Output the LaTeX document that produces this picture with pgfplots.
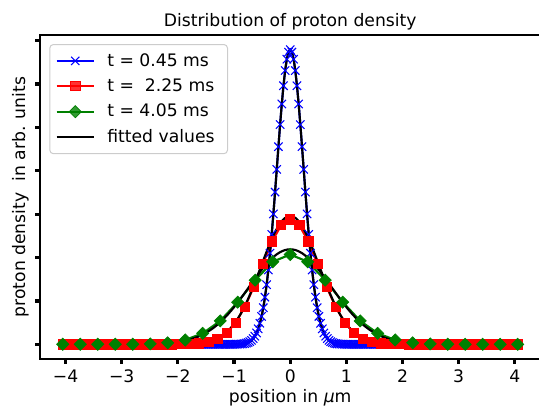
\documentclass[border=0pt]{standalone}
\usepackage{pgfplots}
\pgfplotsset{compat=1.18}
\usepackage{pgfplotstable}
\usepackage{fontspec}
\setmainfont{DejaVu Sans}
\definecolor{mplgreen}{RGB}{0,128,0}
\definecolor{legendgray}{RGB}{204,204,204}

% t = 0.45 ms (data, also used for the fitted curve)
\pgfplotstableread[row sep=\\]{x y\\
-4.05 0\\ -4.02 0\\ -3.99 0\\ -3.96 0\\ -3.93 0\\ -3.90 0\\ -3.87 0\\ -3.84 0\\ -3.81 0\\ -3.78 0\\
-3.75 0\\ -3.72 0\\ -3.69 0\\ -3.66 0\\ -3.63 0\\ -3.60 0\\ -3.57 0\\ -3.54 0\\ -3.51 0\\ -3.48 0\\
-3.45 0\\ -3.42 0\\ -3.39 0\\ -3.36 0\\ -3.33 0\\ -3.30 0\\ -3.27 0\\ -3.24 0\\ -3.21 0\\ -3.18 0\\
-3.15 0\\ -3.12 0\\ -3.09 0\\ -3.06 0\\ -3.03 0\\ -3.00 0\\ -2.97 0\\ -2.94 0\\ -2.91 0\\ -2.88 0\\
-2.85 0\\ -2.82 0\\ -2.79 0\\ -2.76 0\\ -2.73 0\\ -2.70 0\\ -2.67 0\\ -2.64 0\\ -2.61 0\\ -2.58 0\\
-2.55 0\\ -2.52 0\\ -2.49 0\\ -2.46 0\\ -2.43 0\\ -2.40 0\\ -2.37 0\\ -2.34 0\\ -2.31 0\\ -2.28 0\\
-2.25 0\\ -2.22 0\\ -2.19 0\\ -2.16 0\\ -2.13 0\\ -2.10 0\\ -2.07 0\\ -2.04 0\\ -2.01 0\\ -1.98 0\\
-1.95 0\\ -1.92 0\\ -1.89 0\\ -1.86 0\\ -1.83 0\\ -1.80 0\\ -1.77 0\\ -1.74 0\\ -1.71 0\\ -1.68 0\\
-1.65 0\\ -1.62 0\\ -1.59 0\\ -1.56 0\\ -1.53 0\\ -1.50 0\\ -1.47 0\\ -1.44 0\\ -1.41 0\\ -1.38 0\\
-1.35 0\\ -1.32 0\\ -1.29 0\\ -1.26 0\\ -1.23 0\\ -1.20 0\\ -1.17 0\\ -1.14 0\\ -1.11 0\\ -1.08 0\\
-1.05 0\\ -1.02 0\\
-0.99 0.001\\ -0.96 0.002\\ -0.93 0.003\\ -0.90 0.004\\ -0.87 0.007\\ -0.84 0.011\\ -0.81 0.018\\
-0.78 0.028\\ -0.75 0.042\\ -0.72 0.062\\ -0.69 0.091\\ -0.66 0.132\\ -0.63 0.187\\ -0.60 0.261\\
-0.57 0.358\\ -0.54 0.485\\ -0.51 0.644\\ -0.48 0.843\\ -0.45 1.086\\ -0.42 1.375\\ -0.39 1.713\\
-0.36 2.100\\ -0.33 2.533\\ -0.30 3.006\\ -0.27 3.509\\ -0.24 4.031\\ -0.21 4.555\\ -0.18 5.064\\
-0.15 5.539\\ -0.12 5.960\\ -0.09 6.310\\ -0.06 6.572\\ -0.03 6.735\\ 0.00 6.790\\
0.03 6.735\\ 0.06 6.572\\ 0.09 6.310\\ 0.12 5.960\\ 0.15 5.539\\ 0.18 5.064\\ 0.21 4.555\\
0.24 4.031\\ 0.27 3.509\\ 0.30 3.006\\ 0.33 2.533\\ 0.36 2.100\\ 0.39 1.713\\ 0.42 1.375\\
0.45 1.086\\ 0.48 0.843\\ 0.51 0.644\\ 0.54 0.485\\ 0.57 0.358\\ 0.60 0.261\\ 0.63 0.187\\
0.66 0.132\\ 0.69 0.091\\ 0.72 0.062\\ 0.75 0.042\\ 0.78 0.028\\ 0.81 0.018\\ 0.84 0.011\\
0.87 0.007\\ 0.90 0.004\\ 0.93 0.003\\ 0.96 0.002\\ 0.99 0.001\\
1.02 0\\ 1.05 0\\ 1.08 0\\ 1.11 0\\ 1.14 0\\ 1.17 0\\ 1.20 0\\ 1.23 0\\ 1.26 0\\ 1.29 0\\
1.32 0\\ 1.35 0\\ 1.38 0\\ 1.41 0\\ 1.44 0\\ 1.47 0\\ 1.50 0\\ 1.53 0\\ 1.56 0\\ 1.59 0\\
1.62 0\\ 1.65 0\\ 1.68 0\\ 1.71 0\\ 1.74 0\\ 1.77 0\\ 1.80 0\\ 1.83 0\\ 1.86 0\\ 1.89 0\\
1.92 0\\ 1.95 0\\ 1.98 0\\ 2.01 0\\ 2.04 0\\ 2.07 0\\ 2.10 0\\ 2.13 0\\ 2.16 0\\ 2.19 0\\
2.22 0\\ 2.25 0\\ 2.28 0\\ 2.31 0\\ 2.34 0\\ 2.37 0\\ 2.40 0\\ 2.43 0\\ 2.46 0\\ 2.49 0\\
2.52 0\\ 2.55 0\\ 2.58 0\\ 2.61 0\\ 2.64 0\\ 2.67 0\\ 2.70 0\\ 2.73 0\\ 2.76 0\\ 2.79 0\\
2.82 0\\ 2.85 0\\ 2.88 0\\ 2.91 0\\ 2.94 0\\ 2.97 0\\ 3.00 0\\ 3.03 0\\ 3.06 0\\ 3.09 0\\
3.12 0\\ 3.15 0\\ 3.18 0\\ 3.21 0\\ 3.24 0\\ 3.27 0\\ 3.30 0\\ 3.33 0\\ 3.36 0\\ 3.39 0\\
3.42 0\\ 3.45 0\\ 3.48 0\\ 3.51 0\\ 3.54 0\\ 3.57 0\\ 3.60 0\\ 3.63 0\\ 3.66 0\\ 3.69 0\\
3.72 0\\ 3.75 0\\ 3.78 0\\ 3.81 0\\ 3.84 0\\ 3.87 0\\ 3.90 0\\ 3.93 0\\ 3.96 0\\ 3.99 0\\
4.02 0\\ 4.05 0\\
}\bluedata

% t = 2.25 ms (data)
\pgfplotstableread[row sep=\\]{x y\\
-4.050 0\\ -3.888 0\\ -3.726 0\\ -3.564 0\\ -3.402 0\\ -3.240 0\\ -3.078 0\\ -2.916 0\\
-2.754 0\\ -2.592 0\\ -2.430 0\\ -2.268 0\\ -2.106 0.001\\ -1.944 0.003\\ -1.782 0.008\\
-1.620 0.022\\ -1.458 0.057\\ -1.296 0.129\\ -1.134 0.267\\ -0.972 0.502\\ -0.810 0.856\\
-0.648 1.325\\ -0.486 1.861\\ -0.324 2.372\\ -0.162 2.744\\ 0.000 2.880\\
0.162 2.744\\ 0.324 2.372\\ 0.486 1.861\\ 0.648 1.325\\ 0.810 0.856\\ 0.972 0.502\\
1.134 0.267\\ 1.296 0.129\\ 1.458 0.057\\ 1.620 0.022\\ 1.782 0.008\\ 1.944 0.003\\
2.106 0.001\\ 2.268 0\\ 2.430 0\\ 2.592 0\\ 2.754 0\\ 2.916 0\\ 3.078 0\\ 3.240 0\\
3.402 0\\ 3.564 0\\ 3.726 0\\ 3.888 0\\ 4.050 0\\
}\reddata

% t = 4.05 ms (data)
\pgfplotstableread[row sep=\\]{x y\\
-4.0500 0\\ -3.7385 0\\ -3.4269 0\\ -3.1154 0\\ -2.8038 0.002\\ -2.4923 0.010\\
-2.1808 0.034\\ -1.8692 0.101\\ -1.5577 0.253\\ -1.2462 0.540\\ -0.9346 0.972\\
-0.6231 1.479\\ -0.3115 1.903\\ 0.0000 2.070\\ 0.3115 1.903\\ 0.6231 1.479\\
0.9346 0.972\\ 1.2462 0.540\\ 1.5577 0.253\\ 1.8692 0.101\\ 2.1808 0.034\\
2.4923 0.010\\ 2.8038 0.002\\ 3.1154 0\\ 3.4269 0\\ 3.7385 0\\ 4.0500 0\\
}\greendata

% fitted curve for t = 2.25 ms
\pgfplotstableread[row sep=\\]{x y\\
-4.05 0\\ -2.4 0\\ -2.2 0\\ -2.0 0.002\\ -1.9 0.004\\ -1.8 0.007\\ -1.7 0.014\\
-1.6 0.026\\ -1.5 0.046\\ -1.4 0.079\\ -1.3 0.130\\ -1.2 0.206\\ -1.1 0.316\\
-1.0 0.466\\ -0.9 0.662\\ -0.8 0.906\\ -0.7 1.196\\ -0.6 1.521\\ -0.5 1.864\\
-0.4 2.202\\ -0.3 2.506\\ -0.2 2.749\\ -0.1 2.906\\ 0.0 2.960\\ 0.1 2.906\\
0.2 2.749\\ 0.3 2.506\\ 0.4 2.202\\ 0.5 1.864\\ 0.6 1.521\\ 0.7 1.196\\ 0.8 0.906\\
0.9 0.662\\ 1.0 0.466\\ 1.1 0.316\\ 1.2 0.206\\ 1.3 0.130\\ 1.4 0.079\\ 1.5 0.046\\
1.6 0.026\\ 1.7 0.014\\ 1.8 0.007\\ 1.9 0.004\\ 2.0 0.002\\ 2.2 0\\ 2.4 0\\ 4.05 0\\
}\redfit

% fitted curve for t = 4.05 ms
\pgfplotstableread[row sep=\\]{x y\\
-4.05 0\\ -3.0 0\\ -2.8 0.001\\ -2.6 0.004\\ -2.4 0.010\\ -2.2 0.023\\ -2.0 0.051\\
-1.9 0.074\\ -1.8 0.105\\ -1.7 0.145\\ -1.6 0.198\\ -1.5 0.265\\ -1.4 0.348\\
-1.3 0.448\\ -1.2 0.567\\ -1.1 0.704\\ -1.0 0.857\\ -0.9 1.024\\ -0.8 1.201\\
-0.7 1.383\\ -0.6 1.562\\ -0.5 1.732\\ -0.4 1.885\\ -0.3 2.013\\ -0.2 2.109\\
-0.1 2.170\\ 0.0 2.190\\ 0.1 2.170\\ 0.2 2.109\\ 0.3 2.013\\ 0.4 1.885\\ 0.5 1.732\\
0.6 1.562\\ 0.7 1.383\\ 0.8 1.201\\ 0.9 1.024\\ 1.0 0.857\\ 1.1 0.704\\ 1.2 0.567\\
1.3 0.448\\ 1.4 0.348\\ 1.5 0.265\\ 1.6 0.198\\ 1.7 0.145\\ 1.8 0.105\\ 1.9 0.074\\
2.0 0.051\\ 2.2 0.023\\ 2.4 0.010\\ 2.6 0.004\\ 2.8 0.001\\ 3.0 0\\ 4.05 0\\
}\greenfit

\begin{document}
\begin{tikzpicture}
\begin{axis}[
  name=main,
  scale only axis, width=349pt, height=226pt,
  xmin=-4.455, xmax=4.455, ymin=-0.3395, ymax=7.1295,
  axis line style={line width=1.7pt, black},
  tick align=outside, tick pos=left,
  major tick length=3.2pt,
  tick style={line width=2.2pt, black},
  xtick={-4,-3,-2,-1,0,1,2,3,4},
  xticklabels={−4,−3,−2,−1,0,1,2,3,4},
  ytick={0,1,2,3,4,5,6,7}, yticklabels={},
  xticklabel style={font=\fontsize{12}{14}\selectfont, inner sep=0pt, anchor=north, yshift=-4.3pt},
  every axis title shift=0pt,
  title={Distribution of proton density},
  title style={at={(axis description cs:0.5,1)}, anchor=base, yshift=6pt, inner sep=0pt, font=\fontsize{12}{14}\selectfont},
  xlabel={position in {\itshape μ}m},
  xlabel style={at={(axis description cs:0.5,0)}, anchor=base, yshift=-30pt, inner sep=0pt, font=\fontsize{12}{14}\selectfont},
  ylabel={proton density\ \ in arb. units},
  ylabel style={at={(axis description cs:-0.0295,0.5)}, anchor=base, inner sep=0pt, font=\fontsize{12}{14}\selectfont},
  legend cell align=left,
  legend image code/.code={\draw[mark repeat=2,mark phase=2] plot coordinates {(0pt,0pt) (13pt,0pt) (26pt,0pt)};},
  legend style={at={(axis description cs:0,1)}, anchor=north west, xshift=6.5pt, yshift=-6.3pt,
    draw=legendgray, line width=0.7pt, rounded corners=2.5pt, fill=white, fill opacity=0.8, text opacity=1,
    font=\fontsize{12}{14}\selectfont, inner xsep=4pt, inner ysep=2.7pt, row sep=0.3pt,
    nodes={inner xsep=5pt, inner ysep=3.5pt},
    /tikz/every odd column/.append style={column sep=3.6pt}},
]
\addplot[blue, line width=1.5pt, mark=x, mark size=4.1pt, mark options={line width=0.75pt}] table {\bluedata};
\addplot[red, line width=1.5pt, mark=square*, mark size=3.2pt, mark options={line width=0.5pt}] table {\reddata};
\addplot[mplgreen, line width=1.5pt, mark=square*, mark size=3.0pt, mark options={rotate=45, line width=0.5pt}] table {\greendata};
\addplot[black, line width=1.5pt, smooth, no markers] table {\bluedata};
\addplot[black, line width=1.5pt, smooth, no markers, forget plot] table {\redfit};
\addplot[black, line width=1.5pt, smooth, no markers, forget plot] table {\greenfit};
\legend{t = 0.45 ms, t =\ \ 2.25 ms, t = 4.05 ms, fitted values}
\end{axis}
\pgfresetboundingbox
\useasboundingbox ([xshift=-27.9pt,yshift=-32.8pt]main.south west) rectangle ([xshift=-1pt,yshift=24.4pt]main.north east);
\end{tikzpicture}
\end{document}
